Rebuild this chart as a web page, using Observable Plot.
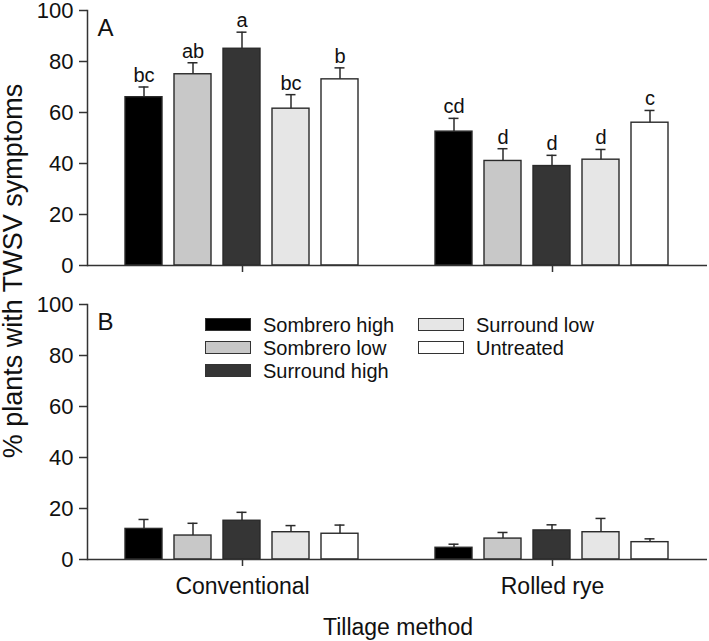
<!DOCTYPE html>
<html>
<head>
<meta charset="utf-8">
<script src="https://cdn.jsdelivr.net/npm/d3@7"></script>
<script src="https://cdn.jsdelivr.net/npm/@observablehq/plot@0.6"></script>
<style>
  html, body { margin: 0; padding: 0; background: #fff; }
  #wrap { position: relative; width: 709px; height: 641px; font-family: "Liberation Sans", Arial, sans-serif; color: #111; overflow: hidden; }
  #wrap svg { position: absolute; left: 0; font-family: "Liberation Sans", Arial, sans-serif; overflow: visible; }
  .ylab { position: absolute; left: 13px; top: 271px; transform: translate(-50%, -50%) rotate(-90deg); white-space: nowrap; font-size: 27px; line-height: 1; }
  .xlab { position: absolute; left: 398px; top: 616px; transform: translateX(-50%); white-space: nowrap; font-size: 23px; line-height: 1; }
  .leg { position: absolute; font-size: 20px; line-height: 1; white-space: nowrap; }
  .sw { position: absolute; width: 44px; height: 11px; border: 1.5px solid #333; }
</style>
</head>
<body>
<div id="wrap"></div>
<script>
// ---- data ----
const treatments = ["Sombrero high", "Sombrero low", "Surround high", "Surround low", "Untreated"];
const tillage = ["Conventional", "Rolled rye"];
const colors = ["#000000", "#c8c8c8", "#353535", "#e6e6e6", "#ffffff"];

// Panel A
const meanA_conv = [66, 75, 85, 61.5, 73];
const errA_conv = [4, 4.5, 6.5, 5.5, 4.5];
const letA_conv = ["bc", "ab", "a", "bc", "b"];
const meanA_rye = [52.5, 41, 39, 41.5, 56];
const errA_rye = [5.2, 4.8, 4.2, 4, 4.8];
const letA_rye = ["cd", "d", "d", "d", "c"];

// Panel B
const meanB_conv = [12, 9.4, 15.2, 10.7, 10.1];
const errB_conv = [3.7, 4.8, 3.3, 2.6, 3.4];
const meanB_rye = [4.6, 8.2, 11.4, 10.7, 6.8];
const errB_rye = [1.4, 2.4, 2.2, 5.4, 1.3];

const yTicks = [0, 20, 40, 60, 80, 100];

function rows(meanC, errC, letC, meanR, errR, letR) {
  const out = [];
  treatments.forEach((t, i) => out.push({tillage: tillage[0], treatment: t, mean: meanC[i], upper: meanC[i] + errC[i], letter: letC ? letC[i] : ""}));
  treatments.forEach((t, i) => out.push({tillage: tillage[1], treatment: t, mean: meanR[i], upper: meanR[i] + errR[i], letter: letR ? letR[i] : ""}));
  return out;
}
const dataA = rows(meanA_conv, errA_conv, letA_conv, meanA_rye, errA_rye, letA_rye);
const dataB = rows(meanB_conv, errB_conv, null, meanB_rye, errB_rye, null);

const FONT = "Liberation Sans, Arial, sans-serif";

function panel(data, label, opts) {
  return Plot.plot({
    width: 709,
    height: opts.height,
    marginLeft: 87,
    marginRight: 2,
    marginTop: opts.marginTop,
    marginBottom: opts.marginBottom,
    style: {fontFamily: FONT, color: "#111", background: "transparent", overflow: "visible"},
    fx: {domain: tillage, padding: 0},
    x: {domain: treatments, paddingInner: 0.235, paddingOuter: 0.736, axis: null},
    y: {domain: [0, 100]},
    color: {domain: treatments, range: colors},
    marks: [
      Plot.barY(data, {fx: "tillage", x: "treatment", y: "mean", fill: "treatment", stroke: "#2a2a2a", strokeWidth: 1.4}),
      Plot.ruleX(data, {fx: "tillage", x: "treatment", y1: "mean", y2: "upper", stroke: "#2a2a2a", strokeWidth: 1.5}),
      Plot.tickY(data, {fx: "tillage", x: "treatment", y: "upper", insetLeft: 13.5, insetRight: 13.5, stroke: "#2a2a2a", strokeWidth: 1.5}),
      opts.letters ? Plot.text(data, {fx: "tillage", x: "treatment", y: "upper", text: "letter", dy: -5, lineAnchor: "bottom", fontSize: 20, fill: "#111"}) : null,
      Plot.text([{tillage: tillage[0], label}], {fx: "tillage", text: "label", frameAnchor: "top-left", dx: 10, dy: 8, lineAnchor: "top", textAnchor: "start", fontSize: 24, fill: "#111"}),
      Plot.ruleY([0], {stroke: "#333", strokeWidth: 1.5}),
      Plot.frame({anchor: "left", facetAnchor: "left", stroke: "#333", strokeWidth: 1.5}),
      Plot.axisY({ticks: yTicks, tickSize: 8, tickPadding: 6, fontSize: 22, label: null, stroke: "#333", strokeWidth: 1.5}),
      Plot.axisFx({anchor: "bottom", tickSize: 7, tickPadding: 11, fontSize: 23, label: null, stroke: "#333", strokeWidth: 1.5,
                   tickFormat: opts.fxLabels ? (d) => d : () => ""})
    ]
  });
}

const wrap = document.getElementById("wrap");
const pA = panel(dataA, "A", {height: 280, marginTop: 10, marginBottom: 15, letters: true, fxLabels: false});
pA.style.top = "0px";
wrap.appendChild(pA);
const pB = panel(dataB, "B", {height: 361, marginTop: 24, marginBottom: 82, letters: false, fxLabels: true});
pB.style.top = "280px";
wrap.appendChild(pB);

// axis titles
const yl = document.createElement("div"); yl.className = "ylab"; yl.textContent = "% plants with TWSV symptoms"; wrap.appendChild(yl);
const xl = document.createElement("div"); xl.className = "xlab"; xl.textContent = "Tillage method"; wrap.appendChild(xl);

// legend (panel B)
const legCols = [{sw: 205, tx: 263}, {sw: 418, tx: 476}];
const legRowY = [325, 348, 371];
treatments.forEach((t, i) => {
  const col = i < 3 ? legCols[0] : legCols[1];
  const y = legRowY[i < 3 ? i : i - 3];
  const s = document.createElement("div");
  s.className = "sw";
  s.style.left = col.sw + "px";
  s.style.top = (y - 7) + "px";
  s.style.background = colors[i];
  wrap.appendChild(s);
  const l = document.createElement("div");
  l.className = "leg";
  l.style.left = col.tx + "px";
  l.style.top = (y - 10) + "px";
  l.textContent = t;
  wrap.appendChild(l);
});
</script>
</body>
</html>
